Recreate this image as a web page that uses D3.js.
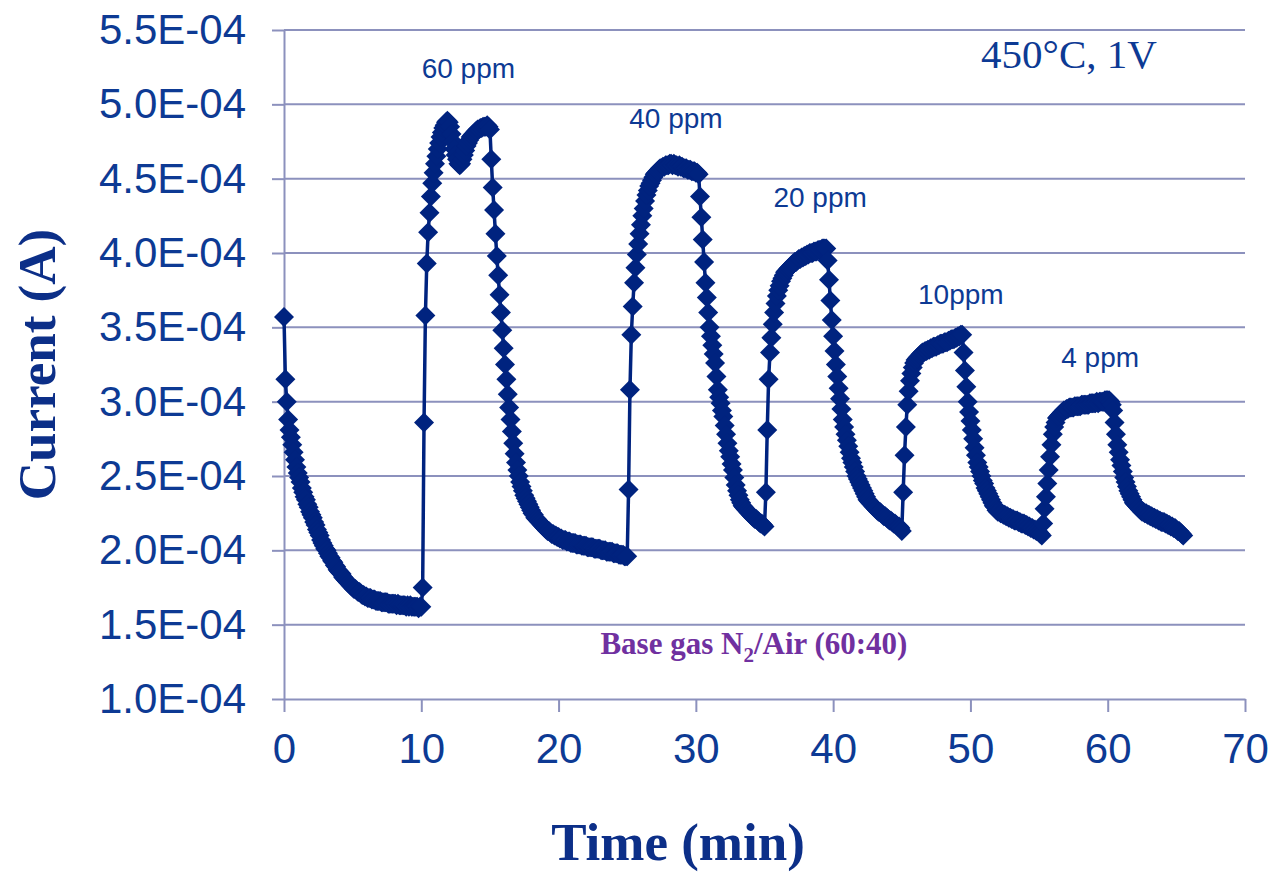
<!DOCTYPE html>
<html>
<head>
<meta charset="utf-8">
<script src="https://cdn.jsdelivr.net/npm/d3@7/dist/d3.min.js"></script>
<style>
    body { margin: 0; background: #fff; }
    svg { display: block; }
    .grid-line { stroke: #8c91bd; stroke-width: 2; }
    .axis path, .axis line { stroke: #8c91bd; stroke-width: 2; }
    .axis text { fill: #0d3a94; font-family: "Liberation Sans", Arial, sans-serif; font-size: 42px; }
    .axis-title { fill: #0c2f88; font-family: "Liberation Serif", "Times New Roman", serif; font-weight: bold; font-size: 53px; }
    .gas-label { fill: #0d3a94; font-family: "Liberation Sans", Arial, sans-serif; font-size: 28px; }
</style>
</head>
<body>
<div id="chart"></div>
<script>
// current readings in units of 1E-04 A, one every 0.1 min from each start time
const STEP = 0.1;

const baseline0 = [
    3.57, 3.15, 3.00, 2.88, 2.81, 2.76, 2.71, 2.66, 2.61, 2.56,
    2.52, 2.49, 2.46, 2.42, 2.39, 2.36, 2.34, 2.31, 2.29, 2.26,
    2.24, 2.22, 2.19, 2.17, 2.14, 2.12, 2.10, 2.07, 2.05, 2.03,
    2.01, 2.00, 1.98, 1.96, 1.95, 1.93, 1.92, 1.90, 1.89, 1.87,
    1.86, 1.85, 1.84, 1.82, 1.81, 1.80, 1.79, 1.78, 1.77, 1.76,
    1.75, 1.74, 1.74, 1.73, 1.72, 1.72, 1.71, 1.70, 1.70, 1.69,
    1.69, 1.68, 1.68, 1.68, 1.67, 1.67, 1.67, 1.66, 1.66, 1.66,
    1.66, 1.65, 1.65, 1.65, 1.65, 1.65, 1.64, 1.64, 1.64, 1.64,
    1.64, 1.64, 1.63, 1.64, 1.63, 1.63, 1.63, 1.63, 1.63, 1.62,
    1.63, 1.62, 1.63, 1.62, 1.62, 1.62, 1.62, 1.62, 1.61, 1.62
];
const ppm60On = [
    1.62, 1.75, 2.86, 3.58, 3.93, 4.14, 4.27, 4.38, 4.47, 4.54,
    4.60, 4.65, 4.70, 4.74, 4.78, 4.81, 4.84, 4.86, 4.88, 4.89,
    4.88, 4.85, 4.80, 4.75, 4.70, 4.66, 4.63, 4.60, 4.59, 4.60,
    4.63, 4.66, 4.69, 4.72, 4.74, 4.76, 4.78, 4.79, 4.80, 4.81,
    4.82, 4.83, 4.83, 4.84, 4.84, 4.85, 4.85, 4.85, 4.86, 4.85
];
const ppm60Off = [
    4.83, 4.63, 4.44, 4.29, 4.13, 3.98, 3.85, 3.72, 3.60, 3.48,
    3.36, 3.25, 3.15, 3.05, 2.96, 2.88, 2.80, 2.72, 2.65, 2.59,
    2.54, 2.50, 2.46, 2.43, 2.40, 2.37, 2.35, 2.33, 2.31, 2.29,
    2.27, 2.25, 2.24, 2.22, 2.21, 2.20, 2.19, 2.18, 2.17, 2.16,
    2.15, 2.14, 2.13, 2.13, 2.12, 2.11, 2.11, 2.10, 2.10, 2.09,
    2.09, 2.08, 2.08, 2.07, 2.07, 2.07, 2.06, 2.06, 2.06, 2.05,
    2.05, 2.05, 2.05, 2.04, 2.04, 2.04, 2.04, 2.03, 2.03, 2.03,
    2.03, 2.02, 2.02, 2.02, 2.02, 2.02, 2.01, 2.01, 2.01, 2.01,
    2.01, 2.00, 2.00, 2.00, 2.00, 1.99, 1.99, 1.99, 1.99, 1.99,
    1.98, 1.98, 1.98, 1.98, 1.97, 1.97, 1.97, 1.97, 1.96, 1.96
];
const ppm40On = [
    1.96, 2.41, 3.08, 3.45, 3.64, 3.80, 3.90, 3.99, 4.06, 4.13,
    4.19, 4.25, 4.30, 4.35, 4.39, 4.42, 4.45, 4.47, 4.49, 4.51,
    4.53, 4.54, 4.55, 4.56, 4.57, 4.57, 4.58, 4.58, 4.59, 4.59,
    4.59, 4.60, 4.60, 4.59, 4.60, 4.59, 4.59, 4.58, 4.59, 4.58,
    4.58, 4.57, 4.57, 4.57, 4.56, 4.56, 4.56, 4.55, 4.55, 4.55,
    4.54, 4.54, 4.53
];
const ppm40Off = [
    4.38, 4.24, 4.09, 3.94, 3.80, 3.70, 3.60, 3.50,
    3.44, 3.38, 3.32, 3.26, 3.17, 3.08, 3.03, 2.99, 2.94, 2.90,
    2.84, 2.78, 2.72, 2.67, 2.63, 2.58, 2.54, 2.49, 2.44, 2.40,
    2.37, 2.34, 2.32, 2.30, 2.29, 2.28, 2.27, 2.26, 2.25, 2.24,
    2.23, 2.22, 2.21, 2.21, 2.20, 2.19, 2.18, 2.18, 2.17
];
const ppm20On = [
    2.16, 2.39, 2.81, 3.15, 3.33, 3.43, 3.52, 3.60, 3.66, 3.71,
    3.75, 3.78, 3.81, 3.83, 3.85, 3.87, 3.88, 3.89, 3.90, 3.91,
    3.92, 3.93, 3.94, 3.94, 3.95, 3.96, 3.96, 3.97, 3.97, 3.98,
    3.98, 3.99, 3.99, 4.00, 4.00, 4.00, 4.01, 4.01, 4.01, 4.02,
    4.02, 4.02, 4.03, 4.03, 4.03, 4.03
];
const ppm20Off = [
    3.95, 3.82, 3.68, 3.55, 3.44, 3.34, 3.25, 3.17, 3.09, 3.02,
    2.95, 2.88, 2.83, 2.78, 2.74, 2.70, 2.66, 2.62, 2.59, 2.56,
    2.53, 2.50, 2.48, 2.46, 2.44, 2.42, 2.40, 2.38, 2.36, 2.34,
    2.33, 2.32, 2.31, 2.30, 2.29, 2.28, 2.27, 2.26, 2.26, 2.25,
    2.24, 2.23, 2.23, 2.22, 2.21, 2.20, 2.20, 2.19, 2.18, 2.18,
    2.17, 2.16, 2.16, 2.15
];
const ppm10On = [
    2.13, 2.39, 2.64, 2.83, 2.98, 3.07, 3.14, 3.19, 3.23, 3.26,
    3.28, 3.29, 3.30, 3.31, 3.32, 3.33, 3.33, 3.34, 3.34, 3.35,
    3.35, 3.36, 3.36, 3.37, 3.37, 3.37, 3.38, 3.38, 3.39, 3.39,
    3.39, 3.40, 3.40, 3.40, 3.41, 3.41, 3.42, 3.42, 3.42, 3.43,
    3.43, 3.44, 3.44, 3.45, 3.45
];
const ppm10Off = [
    3.33, 3.21, 3.10, 3.00, 2.93, 2.87, 2.81, 2.75, 2.69, 2.64,
    2.59, 2.56, 2.53, 2.50, 2.47, 2.45, 2.42, 2.40, 2.38, 2.36,
    2.34, 2.32, 2.30, 2.29, 2.27, 2.26, 2.26, 2.25, 2.25, 2.24,
    2.24, 2.23, 2.23, 2.22, 2.22, 2.21, 2.21, 2.20, 2.20, 2.20,
    2.19, 2.19, 2.18, 2.18, 2.18, 2.17, 2.17, 2.16, 2.16, 2.15,
    2.15, 2.14, 2.14, 2.13, 2.13, 2.12, 2.11, 2.10
];
const ppm4On = [
    2.18, 2.28, 2.36, 2.45, 2.54, 2.63, 2.71, 2.78, 2.83, 2.86,
    2.89, 2.90, 2.91, 2.92, 2.93, 2.94, 2.94, 2.95, 2.95, 2.96,
    2.96, 2.96, 2.96, 2.97, 2.97, 2.97, 2.97, 2.97, 2.98, 2.98,
    2.98, 2.98, 2.98, 2.98, 2.99, 2.99, 2.99, 2.99, 2.99, 3.00,
    2.99, 3.00, 3.00, 3.00, 3.00, 3.01, 3.01, 3.01, 3.01
];
const ppm4Off = [
    3.00, 2.98, 2.94, 2.86, 2.78, 2.71, 2.66, 2.61, 2.57, 2.53,
    2.49, 2.46, 2.43, 2.40, 2.38, 2.36, 2.34, 2.32, 2.31, 2.30,
    2.29, 2.28, 2.27, 2.26, 2.26, 2.25, 2.25, 2.24, 2.24, 2.23,
    2.23, 2.22, 2.22, 2.21, 2.21, 2.20, 2.20, 2.19, 2.19, 2.19,
    2.18, 2.18, 2.17, 2.17, 2.16, 2.16, 2.15, 2.15, 2.14, 2.13,
    2.13, 2.12, 2.11, 2.10
];

const segmentStarts = [0, 10, 15, 25, 30.3, 35, 39.6, 45, 49.5, 55.3, 60.2];
const segmentValues = [baseline0, ppm60On, ppm60Off, ppm40On, ppm40Off,
    ppm20On, ppm20Off, ppm10On, ppm10Off, ppm4On, ppm4Off];

const xTicks = [0, 10, 20, 30, 40, 50, 60, 70];
const yTicks = [1.0e-4, 1.5e-4, 2.0e-4, 2.5e-4, 3.0e-4, 3.5e-4, 4.0e-4, 4.5e-4, 5.0e-4, 5.5e-4];

const gasLabels = ["60 ppm", "40 ppm", "20 ppm", "10ppm", "4 ppm"];
const gasLabelTime = [13.43, 28.55, 39.05, 49.3, 59.45];
const gasLabelCurrent = [5.18e-4, 4.84e-4, 4.31e-4, 3.66e-4, 3.23e-4];

const margin = { top: 30, right: 27, bottom: 173, left: 284 };
const width = 1272 - margin.left - margin.right,
    height = 872 - margin.top - margin.bottom;

const svg = d3.select("#chart").append("svg")
    .attr("width", width + margin.left + margin.right)
    .attr("height", height + margin.top + margin.bottom);

const g = svg.append("g")
    .attr("transform", "translate(" + margin.left + "," + margin.top + ")");

const x = d3.scaleLinear().domain([0, 70]).range([0, width]);
const y = d3.scaleLinear().domain([1.0e-4, 5.5e-4]).range([height, 0]);

// "5.5E-04" style labels
const sciFormat = d => {
    const parts = d.toExponential(1).split("e");
    const exp = +parts[1];
    return parts[0] + "E" + (exp < 0 ? "-" : "+") + String(Math.abs(exp)).padStart(2, "0");
};

let points = [];
segmentValues.forEach((vals, s) => {
    vals.forEach((v, i) => {
        points.push({ t: +(segmentStarts[s] + i * STEP).toFixed(2), current: v * 1e-4 });
    });
});

// horizontal grid
g.append("g").selectAll("line")
    .data(yTicks.slice(1))
    .enter().append("line")
    .attr("class", "grid-line")
    .attr("x1", 0)
    .attr("x2", width)
    .attr("y1", d => y(d))
    .attr("y2", d => y(d));

const xAxis = d3.axisBottom(x)
    .tickValues(xTicks)
    .tickFormat(d3.format("d"))
    .tickSize(13)
    .tickSizeOuter(0)
    .tickPadding(21);

const yAxis = d3.axisLeft(y)
    .tickValues(yTicks)
    .tickFormat(sciFormat)
    .tickSize(12)
    .tickSizeOuter(0)
    .tickPadding(26);

g.append("g")
    .attr("class", "axis y-axis")
    .call(yAxis);

g.append("g")
    .attr("class", "axis x-axis")
    .attr("transform", "translate(0," + height + ")")
    .call(xAxis);

// axis titles
svg.append("text")
    .attr("class", "axis-title")
    .attr("text-anchor", "middle")
    .attr("x", margin.left + width * 0.41)
    .attr("y", 860)
    .text("Time (min)");

svg.append("text")
    .attr("class", "axis-title")
    .attr("text-anchor", "middle")
    .attr("transform", "translate(55," + (margin.top + height * 0.5) + ") rotate(-90)")
    .text("Current (A)");

// series
const line = d3.line()
    .x(d => x(d.t))
    .y(d => y(d.current));

const seriesColour = "#00237f";

g.append("path")
    .datum(points)
    .attr("fill", "none")
    .attr("stroke", seriesColour)
    .attr("stroke-width", 3.5)
    .attr("stroke-linejoin", "round")
    .attr("d", line);

g.append("g").selectAll("path")
    .data(points)
    .enter().append("path")
    .attr("d", "M0,-10L10,0L0,10L-10,0Z")
    .attr("transform", d => "translate(" + x(d.t) + "," + y(d.current) + ")")
    .attr("fill", seriesColour);

// annotations
g.append("g").selectAll("text")
    .data(gasLabels)
    .enter().append("text")
    .attr("class", "gas-label")
    .attr("text-anchor", "middle")
    .attr("x", (d, i) => x(gasLabelTime[i]))
    .attr("y", (d, i) => y(gasLabelCurrent[i]))
    .text(d => d);

g.append("text")
    .attr("text-anchor", "middle")
    .attr("x", width - 176)
    .attr("y", 38)
    .style("fill", "#0d3a94")
    .style("font-family", "'Liberation Serif', 'Times New Roman', serif")
    .style("font-size", "41px")
    .text("450°C, 1V");

const baseGas = g.append("text")
    .attr("text-anchor", "middle")
    .attr("x", width * 0.489)
    .attr("y", 624)
    .style("fill", "#7030a0")
    .style("font-family", "'Liberation Serif', 'Times New Roman', serif")
    .style("font-weight", "bold")
    .style("font-size", "31px");
baseGas.append("tspan").text("Base gas N");
baseGas.append("tspan").attr("dy", 8).style("font-size", "21px").text("2");
baseGas.append("tspan").attr("dy", -8).text("/Air (60:40)");
</script>
</body>
</html>
